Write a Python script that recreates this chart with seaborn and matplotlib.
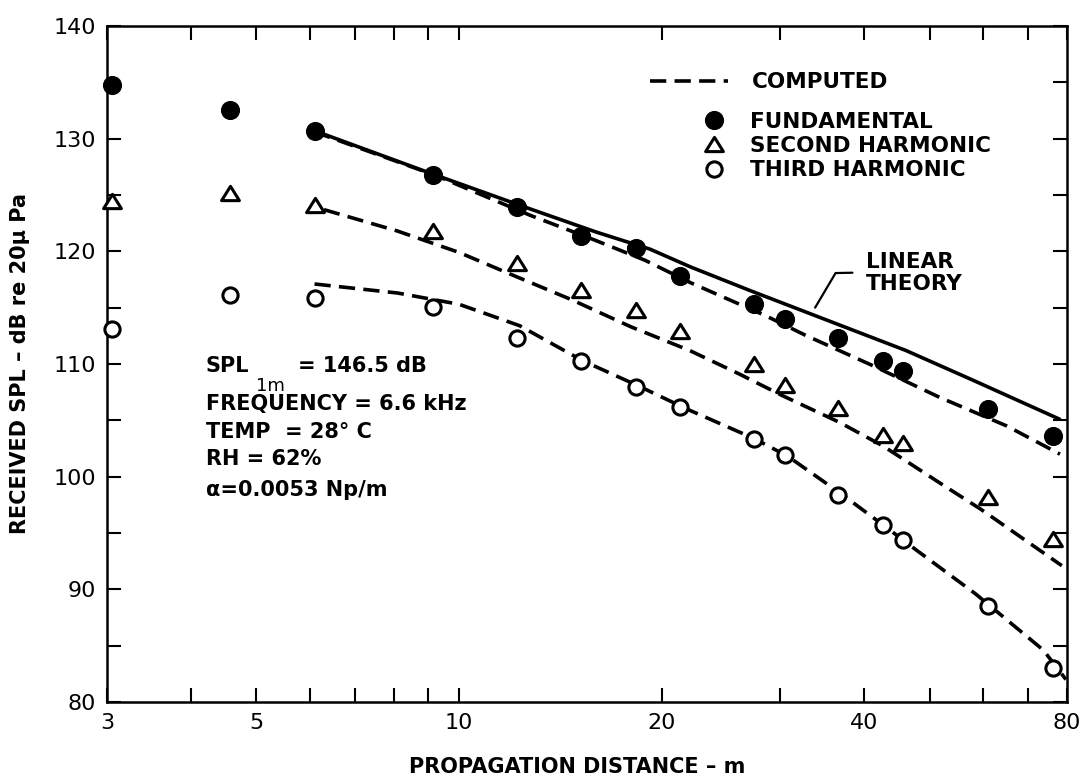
import matplotlib
matplotlib.use("Agg")
import matplotlib.pyplot as plt
import seaborn as sns
import pandas as pd
from matplotlib.lines import Line2D
from matplotlib.path import Path
from matplotlib.ticker import FixedLocator, FixedFormatter, NullFormatter

# ---- measured levels (dB re 20 uPa) versus propagation distance (m) ----
distance_m = [3.05, 4.57, 6.10, 9.14, 12.2, 15.2, 18.3, 21.3, 27.4, 30.5, 36.6, 42.7, 45.7, 61.0, 76.2]
fundamental_db = [134.8, 132.5, 130.7, 126.8, 123.9, 121.4, 120.3, 117.8, 115.3, 114.0, 112.3, 110.3, 109.4, 106.0, 103.6]
second_harm_db = [124.5, 125.2, 124.1, 121.8, 119.0, 116.6, 114.8, 112.9, 110.0, 108.1, 106.1, 103.7, 103.0, 98.2, 94.5]
third_harm_db = [113.1, 116.1, 115.9, 115.1, 112.3, 110.3, 108.0, 106.2, 103.3, 101.9, 98.4, 95.7, 94.4, 88.5, 83.0]

# ---- linear theory curve ----
linear_dist = [6.1, 9.0, 12.7, 16.0, 19.2, 22.1, 27.1, 36.6, 46.1, 57.8, 78.0]
linear_db = [130.7, 127.0, 123.8, 121.7, 120.2, 118.6, 116.5, 113.5, 111.2, 108.6, 105.1]

# ---- computed curves ----
comp_fund_dist = [6.1, 9.26, 12.75, 15.9, 18.9, 22.1, 28.5, 32.7, 41.0, 51.7, 65.1, 78.1]
comp_fund_db = [130.6, 126.7, 123.2, 121.0, 119.2, 117.2, 114.3, 112.55, 109.9, 107.05, 104.5, 102.0]
comp_second_dist = [6.3, 8.1, 10.0, 12.0, 14.7, 18.0, 22.0, 26.1, 30.2, 36.8, 42.7, 51.9, 59.6, 78.6]
comp_second_db = [123.7, 121.8, 119.9, 117.9, 115.7, 113.3, 111.2, 109.1, 107.2, 104.8, 102.7, 99.4, 97.1, 92.1]
comp_third_dist = [6.1, 8.1, 10.0, 12.3, 15.25, 18.55, 21.8, 27.4, 30.8, 36.9, 42.9, 47.5, 58.5, 73.8, 79.7]
comp_third_db = [117.1, 116.3, 115.3, 113.4, 110.3, 108.0, 106.0, 103.4, 101.8, 98.5, 95.6, 93.6, 89.6, 84.6, 82.0]

# ---- axis ticks ----
x_major = [3, 5, 10, 20, 40, 80]
x_major_labels = ["3", "5", "10", "20", "40", "80"]
x_minor = [4, 6, 7, 8, 9, 30, 50, 60, 70]
y_major = [80, 90, 100, 110, 120, 130, 140]
y_minor = [85, 95, 105, 115, 125, 135]

# leader line of the "LINEAR THEORY" callout
leader_x = [33.8, 36.25, 38.4]
leader_y = [115.0, 118.07, 118.1]

sns.set_theme(style="ticks")
plt.rcParams["font.family"] = ["DejaVu Sans"]
plt.rcParams.update({
    "axes.linewidth": 1.8,
    "text.color": "black",
    "axes.labelcolor": "black",
    "xtick.color": "black",
    "ytick.color": "black",
    "axes.edgecolor": "black",
})

fig = plt.figure(figsize=(10.9, 7.82), dpi=100)
ax = fig.add_axes([0.0982, 0.1023, 0.8807, 0.8645])

DASH = (0, (4.5, 2.3))
LW = 2.6

sns.lineplot(x=linear_dist, y=linear_db, ax=ax, color="black", linewidth=2.6, zorder=2)
for xs, ys in [(comp_fund_dist, comp_fund_db),
               (comp_second_dist, comp_second_db),
               (comp_third_dist, comp_third_db)]:
    sns.lineplot(x=xs, y=ys, ax=ax, color="black", linewidth=LW, linestyle=DASH, zorder=2)

tri = Path([(-1, -0.8), (1, -0.8), (0, 0.8), (-1, -0.8)], closed=True)

sns.scatterplot(x=distance_m, y=fundamental_db, ax=ax, marker="o", s=190,
                color="black", edgecolor="black", linewidth=0, zorder=4, clip_on=False)
sns.scatterplot(x=distance_m, y=second_harm_db, ax=ax, marker=tri, s=165,
                color="white", edgecolor="black", linewidth=2.2, zorder=4, clip_on=False)
sns.scatterplot(x=distance_m, y=third_harm_db, ax=ax, marker="o", s=120,
                color="white", edgecolor="black", linewidth=2.2, zorder=4, clip_on=False)

ax.plot(leader_x, leader_y, color="black", linewidth=1.6, zorder=2)
ax.text(40.2, 118.1, "LINEAR\nTHEORY", ha="left", va="center", fontsize=15.5,
        fontweight="bold", linespacing=1.15)

# axes, scales and ticks
ax.set_xscale("log")
ax.set_xlim(3, 80)
ax.set_ylim(80, 140)
ax.xaxis.set_major_locator(FixedLocator(x_major))
ax.xaxis.set_major_formatter(FixedFormatter(x_major_labels))
ax.xaxis.set_minor_locator(FixedLocator(x_minor))
ax.xaxis.set_minor_formatter(NullFormatter())
ax.yaxis.set_major_locator(FixedLocator(y_major))
ax.yaxis.set_minor_locator(FixedLocator(y_minor))
ax.tick_params(which="both", direction="in", length=10, width=1.5,
               top=True, right=True, colors="black")
ax.tick_params(axis="both", which="major", labelsize=16, pad=8)
for sp in ax.spines.values():
    sp.set_color("black")
    sp.set_linewidth(1.8)

ax.set_xlabel("PROPAGATION DISTANCE – m", fontsize=15, fontweight="bold", va="center")
ax.xaxis.set_label_coords(0.49, -0.096)
ax.set_ylabel("RECEIVED SPL – dB re 20μ Pa", fontsize=15, fontweight="bold", va="center")
ax.yaxis.set_label_coords(-0.091, 0.5)

# condition notes
note_kw = dict(transform=ax.transAxes, fontsize=15, fontweight="bold", ha="left", va="center")
ax.text(0.1027, 0.497, "SPL", **note_kw)
ax.text(0.1548, 0.467, "1m", transform=ax.transAxes, fontsize=13, ha="left", va="center")
ax.text(0.1985, 0.497, "= 146.5 dB", **note_kw)
ax.text(0.1027, 0.4407, "FREQUENCY = 6.6 kHz", **note_kw)
ax.text(0.1027, 0.3993, "TEMP  = 28° C", **note_kw)
ax.text(0.1027, 0.3593, "RH = 62%", **note_kw)
ax.text(0.1027, 0.3135, "α=0.0053 Np/m", **note_kw)

# legends
prop = dict(weight="bold", size=15.5)
h_comp = Line2D([], [], color="black", linewidth=LW, linestyle=DASH)
leg1 = ax.legend(handles=[h_comp], labels=["COMPUTED"], loc="center left",
                 bbox_to_anchor=(0.566, 0.917), frameon=False, handlelength=3.6,
                 handletextpad=1.1, borderpad=0, borderaxespad=0, prop=prop,
                 labelcolor="black")
ax.add_artist(leg1)
h_f = Line2D([], [], linestyle="none", marker="o", markersize=13.8,
             markerfacecolor="black", markeredgecolor="black", markeredgewidth=0)
h_s = Line2D([], [], linestyle="none", marker=tri, markersize=12.8,
             markerfacecolor="white", markeredgecolor="black", markeredgewidth=2.2)
h_t = Line2D([], [], linestyle="none", marker="o", markersize=11.0,
             markerfacecolor="white", markeredgecolor="black", markeredgewidth=2.2)
ax.legend(handles=[h_f, h_s, h_t],
          labels=["FUNDAMENTAL", "SECOND HARMONIC", "THIRD HARMONIC"],
          loc="center left", bbox_to_anchor=(0.621, 0.8225), frameon=False,
          handlelength=1.0, handletextpad=1.18, labelspacing=0.2,
          borderpad=0, borderaxespad=0, prop=prop, labelcolor="black")

fig.savefig("out.png", dpi=100, facecolor="white")
